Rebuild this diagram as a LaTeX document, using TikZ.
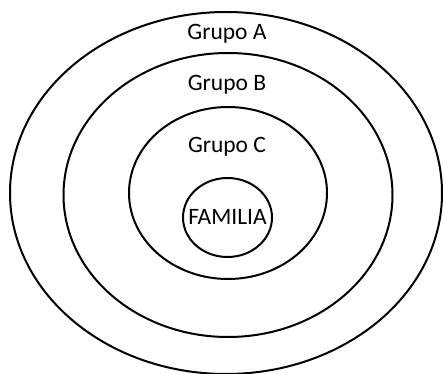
\documentclass[tikz,border=0pt]{standalone}
\usepackage{fontspec}
\setmainfont{Carlito}
\tikzset{
    ring/.style={line width=2pt},
    label/.style={font=\fontsize{23.5}{28}\selectfont, inner sep=0pt}
}

\begin{document}
\begin{tikzpicture}[x=1pt, y=-1pt]
\useasboundingbox (0,0) rectangle (444,374);

% Gruppe A
\draw[ring] (226,193) ellipse (216 and 181);
\node[label] (grupoA) at (227,34) {Grupo A};

% Gruppe B
\draw[ring] (228,195) ellipse (164.5 and 142);
\node[label] (grupoB) at (227,85) {Grupo B};

% Gruppe C
\draw[ring] (228,193) ellipse (99 and 86);
\node[label] (grupoC) at (227,147) {Grupo C};

% Familie
\draw[ring] (227.5,217.5) ellipse (44.5 and 39.5);
\node[label] (familia) at (227.5,217) {FAMILIA};
\end{tikzpicture}
\end{document}
